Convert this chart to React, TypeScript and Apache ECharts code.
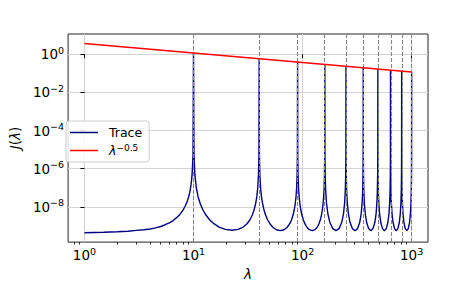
import React, { useEffect, useRef } from 'react';
import * as echarts from 'echarts';

// Peak positions (dashed lines)
const peakLambda = [10, 40, 90, 160, 250, 360, 490, 640, 810, 1000];

// Trace J(lambda)
const traceLambda = [
  1, 1.5, 2, 2.5, 3, 3.5, 4, 4.5, 5, 5.5, 6, 6.5, 7, 7.5, 8, 8.4, 8.75, 9.05, 9.3, 9.5, 9.7, 9.9, 10,
  10.1, 10.3, 10.61, 11.03, 11.56, 12.21, 13.0, 14.04, 15.38, 17.16, 19.6, 22.5, 25.6, 28.56, 30.98, 32.94, 34.6, 35.91, 37.06, 38.03, 38.81, 39.4, 39.8, 40,
  40.2, 40.6, 41.21, 42.03, 43.06, 44.31, 45.8, 47.74, 50.18, 53.36, 57.6, 62.5, 67.6, 72.36, 76.18, 79.24, 81.8, 83.81, 85.56, 87.03, 88.21, 89.1, 89.7, 90,
  90.3, 90.9, 91.81, 93.03, 94.56, 96.41, 98.6, 101.44, 104.98, 109.56, 115.6, 122.5, 129.6, 136.16, 141.38, 145.54, 149.0, 151.71, 154.06, 156.03, 157.61, 158.8, 159.6, 160,
  160.4, 161.2, 162.81, 165.65, 170.57, 178.08, 189.23, 202.5, 216.23, 228.48, 237.17, 243.05, 246.51, 248.5, 249.5, 250,
  250.5, 251.5, 253.51, 257.05, 263.17, 272.48, 286.23, 302.5, 319.23, 334.08, 344.57, 351.65, 355.81, 358.2, 359.4, 360,
  360.6, 361.8, 364.21, 368.45, 375.77, 386.88, 403.23, 422.5, 442.23, 459.68, 471.97, 480.25, 485.11, 487.9, 489.3, 490,
  490.7, 492.1, 494.91, 499.85, 508.37, 521.28, 540.23, 562.5, 585.23, 605.28, 619.37, 628.85, 634.41, 637.6, 639.2, 640,
  640.8, 642.4, 645.61, 651.25, 660.97, 675.68, 697.23, 722.5, 748.23, 770.88, 786.77, 797.45, 803.71, 807.3, 809.1, 810,
  810.9, 812.7, 816.31, 822.65, 833.57, 850.08, 874.23, 902.5, 931.23, 956.48, 974.17, 986.05, 993.01, 997.0, 999.0, 1000,
];
const traceJ = [
  4.4e-10, 4.6e-10, 4.9e-10, 5.2e-10, 5.8e-10, 6.3e-10, 6.9e-10, 7.9e-10, 9.3e-10, 1.15e-9, 1.45e-9, 1.9e-9, 2.7e-9, 4.0e-9, 6.6e-9, 1.1e-8, 1.9e-8, 3.5e-8, 6.9e-8, 1.5e-7, 4.7e-7, 5.2e-6, 1.16,
  5.2e-6, 4.7e-7, 1.0e-7, 3.3e-8, 1.4e-8, 6.8e-9, 3.7e-9, 2.1e-9, 1.3e-9, 8.7e-10, 6.6e-10, 5.9e-10, 6.6e-10, 8.7e-10, 1.3e-9, 2.1e-9, 3.7e-9, 6.8e-9, 1.4e-8, 3.3e-8, 1.0e-7, 4.7e-7, 5.2e-6, 0.58,
  5.2e-6, 4.7e-7, 1.0e-7, 3.3e-8, 1.4e-8, 6.8e-9, 3.7e-9, 2.1e-9, 1.3e-9, 8.5e-10, 6.3e-10, 5.6e-10, 6.3e-10, 8.5e-10, 1.3e-9, 2.1e-9, 3.7e-9, 6.8e-9, 1.4e-8, 3.3e-8, 1.0e-7, 4.7e-7, 5.2e-6, 0.39,
  5.2e-6, 4.7e-7, 1.0e-7, 3.3e-8, 1.4e-8, 6.8e-9, 3.7e-9, 2.1e-9, 1.3e-9, 8.5e-10, 6.3e-10, 5.6e-10, 6.3e-10, 8.5e-10, 1.3e-9, 2.1e-9, 3.7e-9, 6.8e-9, 1.4e-8, 3.3e-8, 1.0e-7, 4.7e-7, 5.2e-6, 0.29,
  5.2e-6, 4.7e-7, 7.2e-8, 1.6e-8, 4.3e-9, 1.5e-9, 7.2e-10, 5.6e-10, 7.2e-10, 1.5e-9, 4.3e-9, 1.6e-8, 7.2e-8, 4.7e-7, 5.2e-6, 0.23,
  5.2e-6, 4.7e-7, 7.2e-8, 1.6e-8, 4.3e-9, 1.5e-9, 7.2e-10, 5.6e-10, 7.2e-10, 1.5e-9, 4.3e-9, 1.6e-8, 7.2e-8, 4.7e-7, 5.2e-6, 0.19,
  5.2e-6, 4.7e-7, 7.2e-8, 1.6e-8, 4.3e-9, 1.5e-9, 7.2e-10, 5.6e-10, 7.2e-10, 1.5e-9, 4.3e-9, 1.6e-8, 7.2e-8, 4.7e-7, 5.2e-6, 0.165,
  5.2e-6, 4.7e-7, 7.2e-8, 1.6e-8, 4.3e-9, 1.5e-9, 7.2e-10, 5.6e-10, 7.2e-10, 1.5e-9, 4.3e-9, 1.6e-8, 7.2e-8, 4.7e-7, 5.2e-6, 0.145,
  5.2e-6, 4.7e-7, 7.2e-8, 1.6e-8, 4.3e-9, 1.5e-9, 7.2e-10, 5.6e-10, 7.2e-10, 1.5e-9, 4.3e-9, 1.6e-8, 7.2e-8, 4.7e-7, 5.2e-6, 0.129,
  5.2e-6, 4.7e-7, 7.2e-8, 1.6e-8, 4.3e-9, 1.5e-9, 7.2e-10, 5.6e-10, 7.2e-10, 1.5e-9, 4.3e-9, 1.6e-8, 7.2e-8, 4.7e-7, 5.2e-6, 0.116,
];

// Reference line lambda^-0.5
const refLambda = [1, 1000];
const refJ = [3.66, 0.116];

// Axis ticks (exponents of 10) and minor tick positions
const xMajorExp = [0, 1, 2, 3];
const yMajorExp = [-8, -6, -4, -2, 0];
const xMinorLambda = [0.8, 0.9, 2, 3, 4, 5, 6, 7, 8, 9, 20, 30, 40, 50, 60, 70, 80, 90, 200, 300, 400, 500, 600, 700, 800, 900];

const FONT = 'DejaVu Sans';
const lg = (v: number) => Math.log10(v);
const expText = (v: number) => (v < 0 ? '\u2212' + String(-v) : String(v));
const tickRich = {
  b: { fontSize: 13.5, fontFamily: FONT, color: '#000', lineHeight: 18 },
  e: { fontSize: 9.5, fontFamily: FONT, color: '#000', lineHeight: 10, verticalAlign: 'top' },
};

export default function App() {
  const ref = useRef<HTMLDivElement>(null);
  useEffect(() => {
    const chart = echarts.init(ref.current!, null, { renderer: 'svg' });
    const xMin = -0.15, xMax = 3.15, yMin = -9.85, yMax = 1.06;
    const option: any = {
      animation: false,
      backgroundColor: '#fff',
      textStyle: { fontFamily: FONT },
      grid: { left: 60, right: 48, top: 34, bottom: 36, show: true, borderColor: '#262626', borderWidth: 1, backgroundColor: 'transparent' },
      legend: {
        data: ['Trace', 'ref'],
        orient: 'vertical',
        left: 66,
        top: 121,
        icon: 'rect',
        itemWidth: 28,
        itemHeight: 1.5,
        itemGap: 4,
        padding: [5, 7, 5, 4],
        backgroundColor: 'rgba(255,255,255,0.85)',
        borderColor: '#cccccc',
        borderWidth: 1,
        borderRadius: 3,
        formatter: (name: string) => (name === 'Trace' ? '{t|Trace}' : '{l|\u03bb}{e|\u22120.5}'),
        textStyle: {
          fontSize: 12.5,
          color: '#000',
          padding: [0, 0, 0, 6],
          rich: {
            t: { fontSize: 12.5, fontFamily: FONT, color: '#000', lineHeight: 15 },
            l: { fontSize: 12.5, fontFamily: FONT, fontStyle: 'italic', color: '#000', lineHeight: 15 },
            e: { fontSize: 9, fontFamily: FONT, color: '#000', lineHeight: 9, verticalAlign: 'top' },
          },
        },
      },
      xAxis: [
        {
          type: 'value', min: xMin, max: xMax, position: 'bottom',
          name: '\u03bb', nameLocation: 'middle', nameGap: 23,
          nameTextStyle: { fontSize: 13.5, fontStyle: 'italic', fontFamily: FONT, color: '#000' },
          axisLine: { show: false },
          axisTick: { show: true, length: 4, customValues: xMajorExp, lineStyle: { color: '#000', width: 1 } },
          axisLabel: { show: true, margin: 4, customValues: xMajorExp, formatter: (v: number) => `{b|10}{e|${expText(Math.round(v))}}`, rich: tickRich },
          splitLine: { show: true, lineStyle: { color: '#d4d4d4', width: 1 } },
        },
        {
          type: 'value', min: xMin, max: xMax, position: 'bottom',
          axisLine: { show: false },
          axisTick: { show: true, length: 2.5, customValues: xMinorLambda.map(lg), lineStyle: { color: '#000', width: 0.8 } },
          axisLabel: { show: false },
          splitLine: { show: false },
        },
      ],
      yAxis: {
        type: 'value', min: yMin, max: yMax,
        name: '{i|J}{r|(}{i|\u03bb}{r|)}', nameLocation: 'middle', nameGap: 40,
        nameTextStyle: {
          rich: {
            i: { fontSize: 13.5, fontStyle: 'italic', fontFamily: FONT, color: '#000' },
            r: { fontSize: 13.5, fontFamily: FONT, color: '#000' },
          },
        },
        axisLine: { show: false },
        axisTick: { show: true, length: 4, customValues: yMajorExp, lineStyle: { color: '#000', width: 1 } },
        axisLabel: { show: true, margin: 4, customValues: yMajorExp, formatter: (v: number) => `{b|10}{e|${expText(Math.round(v))}}`, rich: tickRich },
        splitLine: { show: true, lineStyle: { color: '#d4d4d4', width: 1 } },
      },
      series: [
        {
          name: 'Trace', type: 'line', xAxisIndex: 0, showSymbol: false, z: 2,
          color: '#000080',
          lineStyle: { color: '#000080', width: 1.4 },
          data: traceLambda.map((x, i) => [lg(x), lg(traceJ[i])]),
          markLine: {
            silent: true, symbol: 'none', z: 5,
            label: { show: false },
            lineStyle: { color: '#858585', width: 1.1, type: [4, 2] },
            emphasis: { disabled: true },
            data: peakLambda.map((p) => ({ xAxis: lg(p) })),
          },
        },
        {
          name: 'ref', type: 'line', xAxisIndex: 0, showSymbol: false, z: 6,
          color: '#ff0000',
          lineStyle: { color: '#ff0000', width: 1.4 },
          data: refLambda.map((x, i) => [lg(x), lg(refJ[i])]),
        },
      ],
    };
    chart.setOption(option);
    return () => chart.dispose();
  }, []);
  return <div ref={ref} style={{ position: 'fixed', left: 0, top: 0, width: 476, height: 286, background: '#fff' }} />;
}
